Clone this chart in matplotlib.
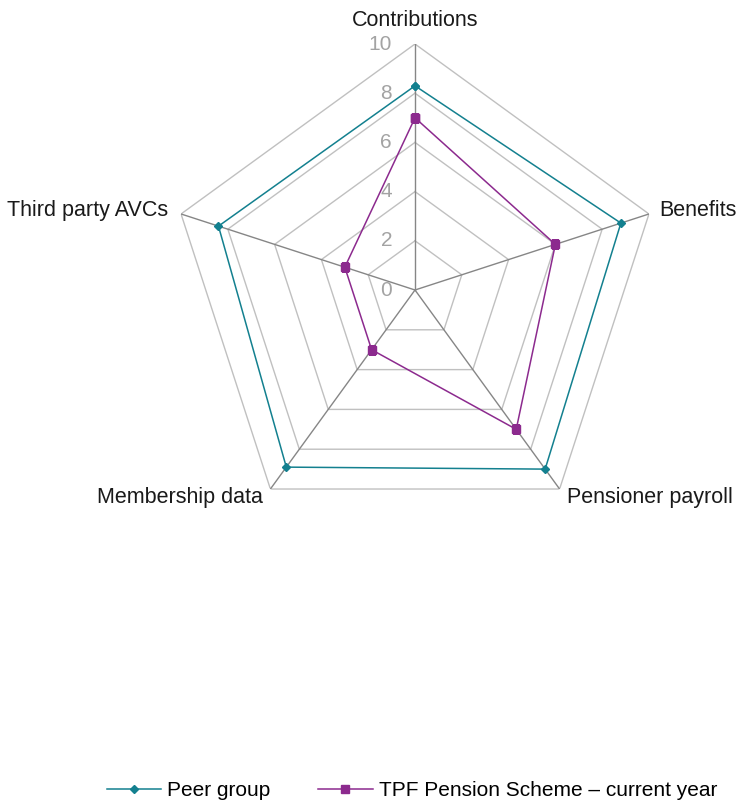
import numpy as np
import matplotlib
matplotlib.use("Agg")
import matplotlib.pyplot as plt
from matplotlib.transforms import ScaledTranslation

plt.rcParams['font.family'] = ['Liberation Sans', 'DejaVu Sans']

categories = ["Contributions", "Benefits", "Pensioner payroll", "Membership data", "Third party AVCs"]
peer_group = [8.3, 8.8, 9.0, 8.9, 8.4]
tpf_scheme = [7.0, 6.0, 7.0, 3.0, 3.0]
series_names = ["Peer group", "TPF Pension Scheme \u2013 current year"]
r_ticks = [0, 2, 4, 6, 8, 10]

W, H = 737, 802
fig = plt.figure(figsize=(W / 100, H / 100), dpi=100)
cx, cy, R = 415, 290, 246
ax = fig.add_axes([(cx - R) / W, (H - cy - R) / H, 2 * R / W, 2 * R / H], projection='polar')
ax.set_theta_offset(np.pi / 2)
ax.set_theta_direction(-1)
ax.set_ylim(0, 10)
ax.grid(False)
ax.set_xticks([])
ax.set_yticks([])
ax.spines['polar'].set_visible(False)
ax.patch.set_visible(False)

n = len(categories)
theta = np.arange(n) * 2 * np.pi / n
theta_c = np.append(theta, theta[0])

# pentagon grid
for r in r_ticks[1:]:
    ax.plot(theta_c, [r] * (n + 1), color='#C0C0C0', lw=1.0, zorder=1)
# spokes
for t in theta:
    ax.plot([t, t], [0, 10], color='#868686', lw=1.0, zorder=2)

# tick labels
off = ax.transData + ScaledTranslation(-23 / 100, 0, fig.dpi_scale_trans)
for r in r_ticks:
    ax.text(0, r, str(r), transform=off, ha='right', va='center', fontsize=15, color='#A3A3A3')

# category labels
label_specs = [
    ('center', (0, 24)),
    ('left', (10, 3)),
    ('left', (7, -8)),
    ('right', (-8, -8)),
    ('right', (-13, 3)),
]
for t, lab, (ha, xy) in zip(theta, categories, label_specs):
    ax.annotate(lab, xy=(t, 10), xytext=xy, textcoords='offset pixels',
                ha=ha, va='center', fontsize=15.5, color='#1a1a1a', annotation_clip=False)

teal = '#13808F'
purple = '#8C2A8E'
ax.plot(theta_c, peer_group + [peer_group[0]], color=teal, lw=1.1, marker='D', ms=4.5,
        label=series_names[0], zorder=4)
ax.plot(theta_c, tpf_scheme + [tpf_scheme[0]], color=purple, lw=1.1, marker='s', ms=6,
        label=series_names[1], zorder=5)

fig.legend(loc='center', bbox_to_anchor=(412 / W, 11 / H), ncol=2, frameon=False,
           fontsize=15, handlelength=2.6, columnspacing=2.3, handletextpad=0.3,
           borderpad=0.0)

fig.savefig('out.png', dpi=100)
